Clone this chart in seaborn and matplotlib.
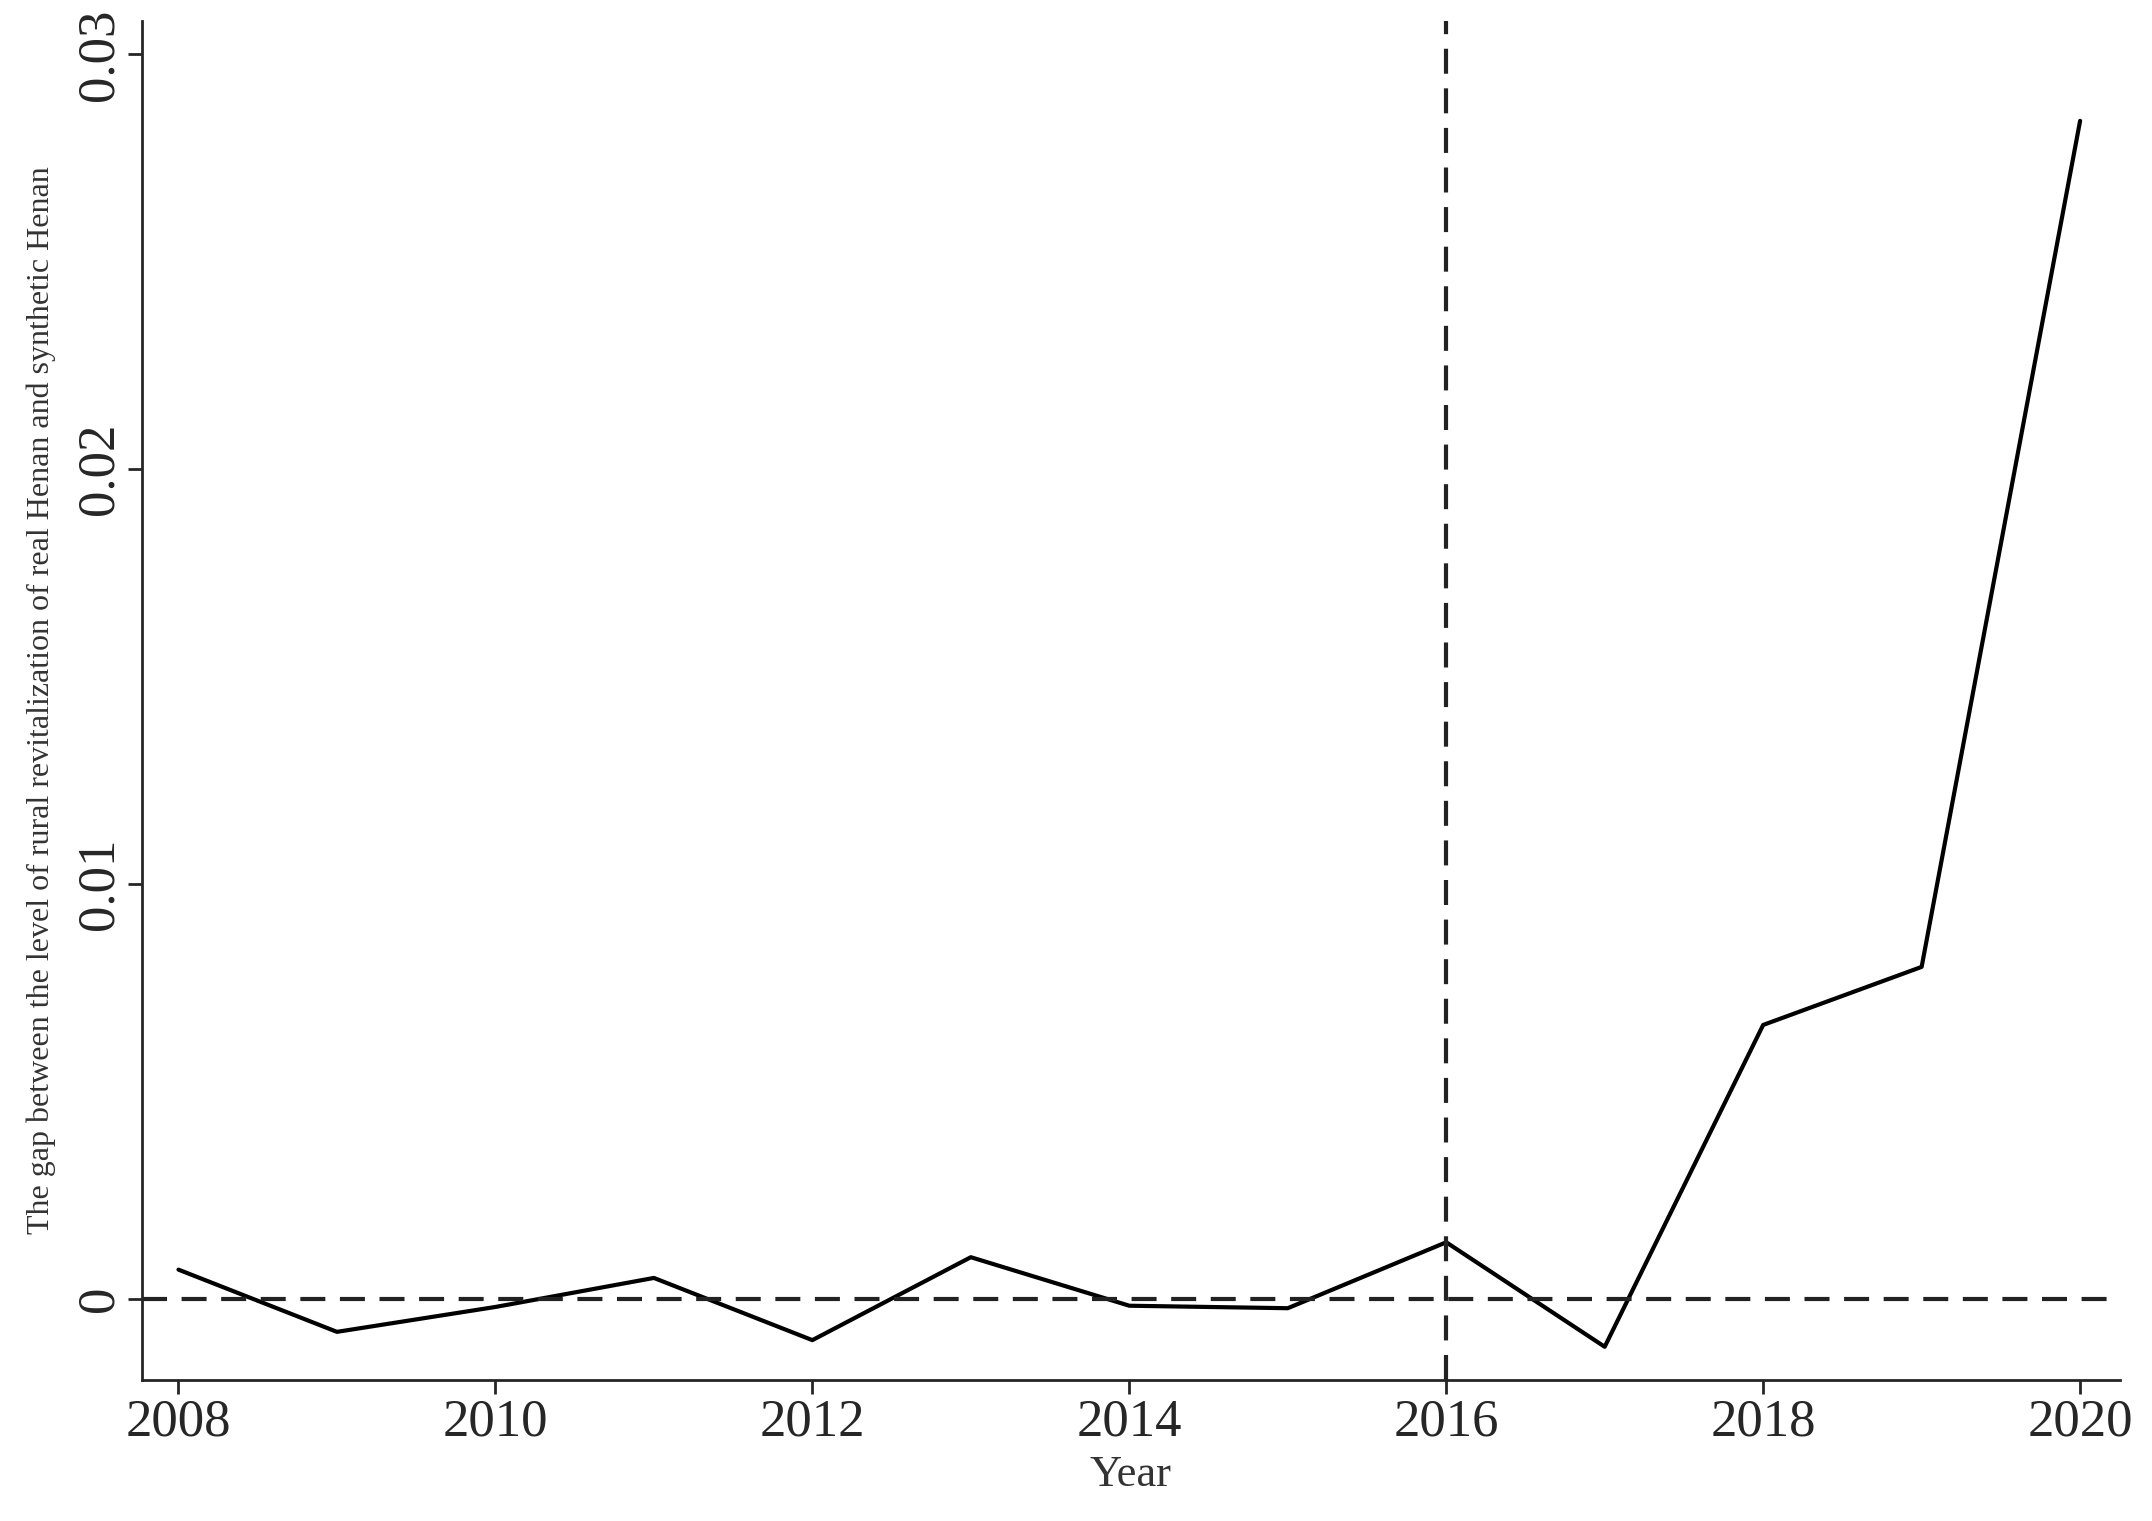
import numpy as np
import pandas as pd
import seaborn as sns
import matplotlib.pyplot as plt

years = [2008, 2009, 2010, 2011, 2012, 2013, 2014, 2015, 2016, 2017, 2018, 2019, 2020]
gap = [0.0007, -0.0008, -0.0002, 0.0005, -0.0010, 0.0010, -0.00017, -0.00023,
       0.00136, -0.00116, 0.0066, 0.0080, 0.0284]
treat_year = 2016

df = pd.DataFrame({'Year': years, 'gap': gap})

sns.set_style('ticks')
plt.rcParams['font.family'] = ['Liberation Serif', 'DejaVu Serif']

fig = plt.figure(figsize=(21.52, 15.21), dpi=100)
ax = fig.add_axes([0.066, 0.093, 0.919, 0.893])
sns.lineplot(data=df, x='Year', y='gap', color='black', lw=3, ax=ax)
ax.axhline(0, color='#222222', ls=(0, (6, 3.5)), lw=3)
ax.axvline(treat_year, color='#222222', ls=(0, (6, 3.5)), lw=3)

ax.set_xlim(2007.77, 2020.25)
ax.set_ylim(-0.00195, 0.0308)
ax.set_xticks(range(2008, 2021, 2))
ax.set_yticks([0, 0.01, 0.02, 0.03])
ax.set_yticklabels(['0', '0.01', '0.02', '0.03'], rotation=90, va='center')
ax.tick_params(labelsize=38, width=2, length=10)
sns.despine(ax=ax)
for s in ['left', 'bottom']:
    ax.spines[s].set_linewidth(2)
ax.set_xlabel('Year', fontsize=32, color='#333333', labelpad=6)
ax.set_ylabel('The gap between the level of rural revitalization of real Henan and synthetic Henan',
              fontsize=23, color='#333333', labelpad=14)

plt.savefig('out.png', dpi=100)
